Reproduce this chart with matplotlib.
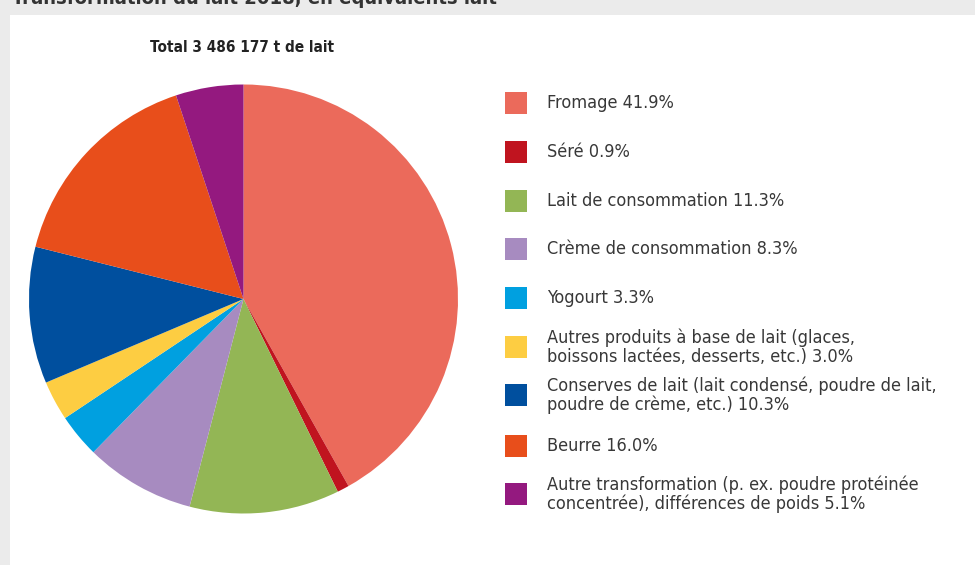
import matplotlib
matplotlib.use("Agg")
import matplotlib.pyplot as plt
from matplotlib.patches import Rectangle

names = [
    "Fromage",
    "Séré",
    "Lait de consommation",
    "Crème de consommation",
    "Yogourt",
    "Autres produits à base de lait (glaces,\nboissons lactées, desserts, etc.)",
    "Conserves de lait (lait condensé, poudre de lait,\npoudre de crème, etc.)",
    "Beurre",
    "Autre transformation (p. ex. poudre protéinée\nconcentrée), différences de poids",
]
shares = [41.9, 0.9, 11.3, 8.3, 3.3, 3.0, 10.3, 16.0, 5.1]
colors = ["#EB6A5B", "#C0141F", "#93B655", "#A78BC0", "#00A0E0",
          "#FDCD42", "#004F9E", "#E84E1B", "#94197F"]
total_label = "Total 3 486 177 t de lait"
header = "Transformation du lait 2018, en équivalents lait"

plt.rcParams["font.family"] = ["DejaVu Sans"]
plt.rcParams["font.stretch"] = "condensed"

W, H = 975, 565
fig = plt.figure(figsize=(W / 100, H / 100), dpi=100, facecolor="#EBEBEB")

# white panel behind everything
fig.patches.append(Rectangle((10 / W, 0), 1, 1 - 15 / H, transform=fig.transFigure,
                             facecolor="white", edgecolor="none", zorder=-10))

# header running off the top edge
fig.text(12 / W, 1 - 4 / H, header, ha="left", va="baseline", fontsize=14.5,
         fontweight="bold", color="#333333", fontstretch="condensed")

# pie
cx, cy, r = 243.5, 299, 214.5
ax = fig.add_axes([(cx - r) / W, 1 - (cy + r) / H, 2 * r / W, 2 * r / H])
ax.patch.set_visible(False)
ax.pie(shares, colors=colors, startangle=90, counterclock=False,
       wedgeprops=dict(linewidth=0))
ax.set_aspect("equal")
ax.set_xlim(-1, 1)
ax.set_ylim(-1, 1)
ax.axis("off")

fig.text(242 / W, 1 - 47 / H, total_label, ha="center", va="center",
         fontsize=11, fontweight="bold", color="#222222", fontstretch="condensed")

# legend
ys = [103, 152, 201, 249, 298, 347, 395, 446, 494]
for name, val, col, y in zip(names, shares, colors, ys):
    fig.patches.append(Rectangle((505 / W, 1 - (y + 11) / H), 22 / W, 22 / H,
                                 transform=fig.transFigure, facecolor=col,
                                 edgecolor="none"))
    fig.text(547 / W, 1 - y / H, f"{name} {val:.1f}%", ha="left", va="center",
             fontsize=13, color="#383838", linespacing=1.05,
             fontstretch="condensed")

fig.savefig("out.png", dpi=100, facecolor=fig.get_facecolor())
